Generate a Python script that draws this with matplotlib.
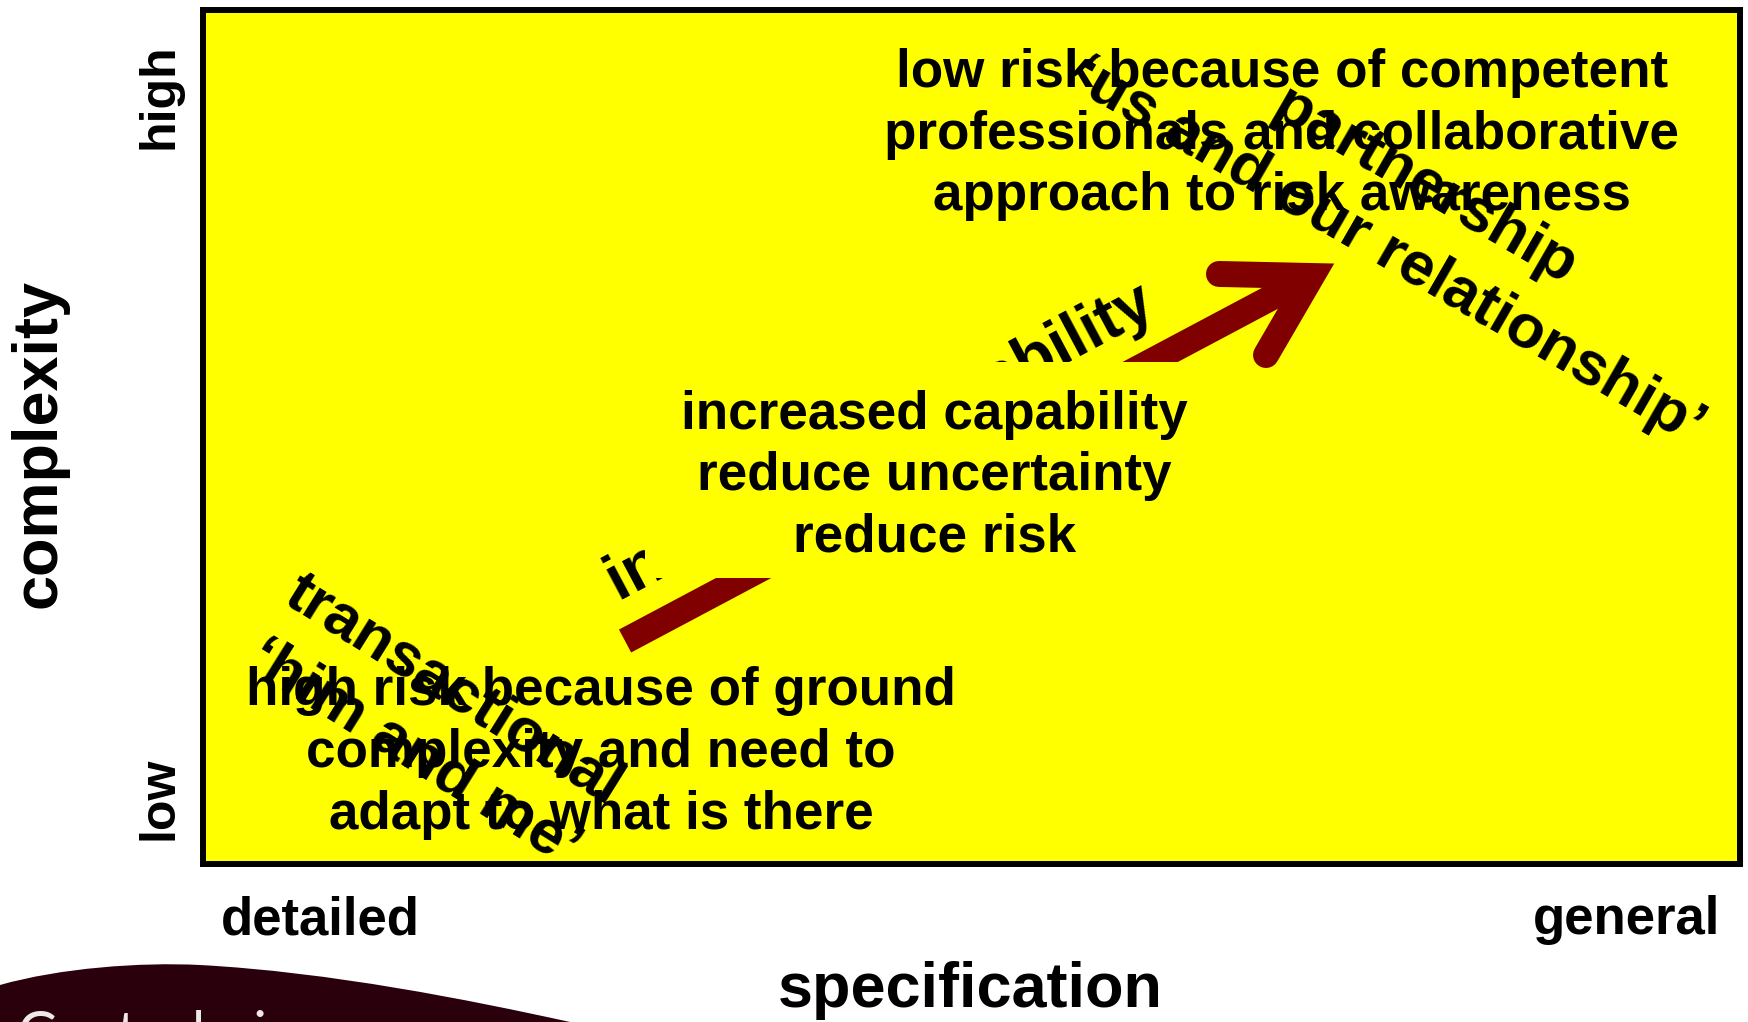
import matplotlib.pyplot as plt
from matplotlib.patches import Rectangle, PathPatch
from matplotlib.path import Path

plt.rcParams['font.family'] = ['Liberation Sans', 'DejaVu Sans']

# text blocks inside the box, placed in axes fractions
# (x = specification detailed->general, y = complexity low->high)
block_texts = [
    "low risk because of competent\nprofessionals and collaborative\napproach to risk awareness",
    "increased capability\nreduce uncertainty\nreduce risk",
    "high risk because of ground\ncomplexity and need to\nadapt to what is there",
]
block_x = [0.702, 0.476, 0.259]
block_y = [0.854, 0.454, 0.130]

# slanted word-art labels
slant_texts = [
    "partnership\n\u2018us and our relationship\u2019",
    "transactional\n\u2018him and me\u2019",
    "increased capability",
]
slant_x = [0.7827, 0.150, 0.4405]
slant_y = [0.754, 0.166, 0.493]
slant_angle = [-30, -32, 28]
slant_size = [44.6, 44.6, 46]

# arrow: shaft from tail to head vertex, head = barb -> vertex -> barb
shaft_x = [0.2746, 0.7215]
shaft_y = [0.2611, 0.6885]
head_x = [0.661, 0.7215, 0.6916]
head_y = [0.6909, 0.6885, 0.596]

# yellow panel behind the middle text (hides the middle of the arrow)
mask_x = [0.2876, 0.665]
mask_y = [0.335, 0.588]

W, H = 1748, 1022
fig = plt.figure(figsize=(W / 100, H / 100), dpi=100)
ax = fig.add_axes([203 / W, 1 - 864 / H, 1537 / W, 854 / H])
ax.set_facecolor('#ffff00')
ax.set_xlim(0, 1)
ax.set_ylim(0, 1)
ax.set_xticks([])
ax.set_yticks([])
for sp in ax.spines.values():
    sp.set_linewidth(4.3)
    sp.set_color('black')

maroon = '#800000'
arrow_lw = 18.7

# slanted "increased capability" sits under the panel
ax.text(slant_x[2], slant_y[2], slant_texts[2], rotation=slant_angle[2],
        fontsize=slant_size[2], fontweight='bold', ha='center', va='center', zorder=2)
ax.plot(shaft_x, shaft_y, color=maroon, lw=arrow_lw, solid_capstyle='butt', zorder=2)
ax.plot(head_x, head_y, color=maroon, lw=arrow_lw, solid_capstyle='round',
        solid_joinstyle='miter', zorder=2)
ax.add_patch(Rectangle((mask_x[0], mask_y[0]), mask_x[1] - mask_x[0], mask_y[1] - mask_y[0],
                       facecolor='#ffff00', edgecolor='none', zorder=3))

for s, x, y in zip(block_texts, block_x, block_y):
    ax.text(x, y, s, fontsize=38.2, fontweight='bold', ha='center', va='center',
            multialignment='center', linespacing=1.3, zorder=4)

for i in range(2):
    ax.text(slant_x[i], slant_y[i], slant_texts[i], rotation=slant_angle[i],
            fontsize=slant_size[i], fontweight='bold', ha='center', va='center',
            multialignment='center', linespacing=1.4, zorder=4)

# axis annotations
fig.text(159 / W, 1 - 96 / H, 'high', rotation=90, fontsize=36, fontweight='bold',
         ha='center', va='center')
fig.text(159 / W, 1 - 798 / H, 'low', rotation=90, fontsize=36, fontweight='bold',
         ha='center', va='center')
fig.text(39 / W, 1 - 443 / H, 'complexity', rotation=90, fontsize=45.4, fontweight='bold',
         ha='center', va='center')
fig.text(221 / W, 1 - 934 / H, 'detailed', fontsize=38, fontweight='bold',
         ha='left', va='baseline')
fig.text(1720 / W, 1 - 934 / H, 'general', fontsize=38, fontweight='bold',
         ha='right', va='baseline')
fig.text(970 / W, 1 - 1007 / H, 'specification', fontsize=45.4, fontweight='bold',
         ha='center', va='baseline')

# logo swoosh in the bottom-left corner
pts = [(0, 985), (60, 968), (140, 962), (200, 965),
       (330, 972), (470, 1000), (570, 1022), (0, 1022), (0, 985)]
codes = [Path.MOVETO, Path.CURVE4, Path.CURVE4, Path.CURVE4,
         Path.CURVE4, Path.CURVE4, Path.CURVE4, Path.LINETO, Path.CLOSEPOLY]
logo = Path([(x / W, 1 - y / H) for x, y in pts], codes)
fig.patches.append(PathPatch(logo, facecolor='#2a000c', edgecolor='none',
                             transform=fig.transFigure))
fig.text(17 / W, 1 - 1050 / H, 'Geotechnica', fontsize=39.6, color='#eee8e8',
         family=['Lato', 'DejaVu Sans'], ha='left', va='baseline')

fig.savefig('out.png', dpi=100, facecolor='white')
